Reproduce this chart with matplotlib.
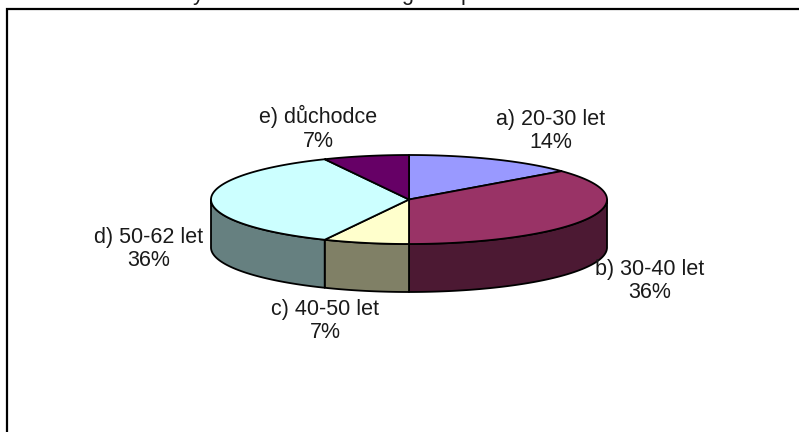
"""
Rough copy of a 3D-looking pie chart with age groups, drawn with plain polygons.
"""
import numpy as np
import matplotlib
matplotlib.use("Agg")  # no display in the sandbox
import matplotlib.pyplot as plt
from matplotlib.patches import Polygon

# ── data ──────────────────────────────────────────────────────────
categories = ["a) 20-30 let", "b) 30-40 let", "c) 40-50 let", "d) 50-62 let", "e) důchodce"]
values = [14, 36, 7, 36, 7]

top_colors = ["#9999FF", "#993366", "#FFFFCC", "#CCFFFF", "#660066"]
side_colors = ["#4C4C80", "#4C1933", "#808066", "#668080", "#330033"]
label_pos = [(551, 131), (650, 281), (325, 321), (149, 249), (318, 128)]

# the title is cut off by the top edge, only these descenders can be seen
title_letters = ["y", "g", "p"]
title_x = [198, 407, 467]

# ── layout (pixels) ───────────────────────────────────────────────
W, H = 799, 432
CX, CY = 409, 199.5
RX, RY = 198, 44.5
DEPTH = 48
FONT_SIZE = 15.5

plt.rcParams["font.family"] = ["Liberation Sans", "DejaVu Sans"]

fig = plt.figure(figsize=(W / 100, H / 100), dpi=100)
ax = fig.add_axes([0, 0, 1, 1])
ax.set_xlim(0, W)
ax.set_ylim(H, 0)
ax.axis("off")


def rim(a0, a1):
    # angles are clockwise from 12 o'clock, in degrees
    t = np.radians(np.linspace(a0, a1, 120))
    return np.column_stack([CX + RX * np.sin(t), CY - RY * np.cos(t)])


# frame, its right and bottom edges are outside the picture
ax.plot([7, 7, W], [H, 9, 9], color="black", lw=1.6, solid_joinstyle="miter", clip_on=False)
for letter, x in zip(title_letters, title_x):
    ax.text(x, 0, letter, ha="center", va="baseline", fontsize=FONT_SIZE, color="#1a1a1a", clip_on=True)

edges = 360 * np.cumsum([0] + values) / sum(values)

# side walls first, only the front half of the rim can be seen
for i in range(len(values)):
    a0, a1 = max(edges[i], 90), min(edges[i + 1], 270)
    if a1 <= a0:
        continue
    r = rim(a0, a1)
    wall = np.vstack([r, (r + [0, DEPTH])[::-1]])
    ax.add_patch(Polygon(wall, closed=True, fc=side_colors[i], ec="black", lw=1.3, joinstyle="round"))

for i in range(len(values)):
    wedge = np.vstack([[CX, CY], rim(edges[i], edges[i + 1])])
    ax.add_patch(Polygon(wedge, closed=True, fc=top_colors[i], ec="black", lw=1.3, joinstyle="round"))

for name, val, (x, y) in zip(categories, values, label_pos):
    ax.text(x, y, f"{name}\n{val}%", ha="center", va="center", fontsize=FONT_SIZE, color="#1a1a1a", linespacing=1.18)

fig.savefig("out.png", dpi=100)
plt.close(fig)
